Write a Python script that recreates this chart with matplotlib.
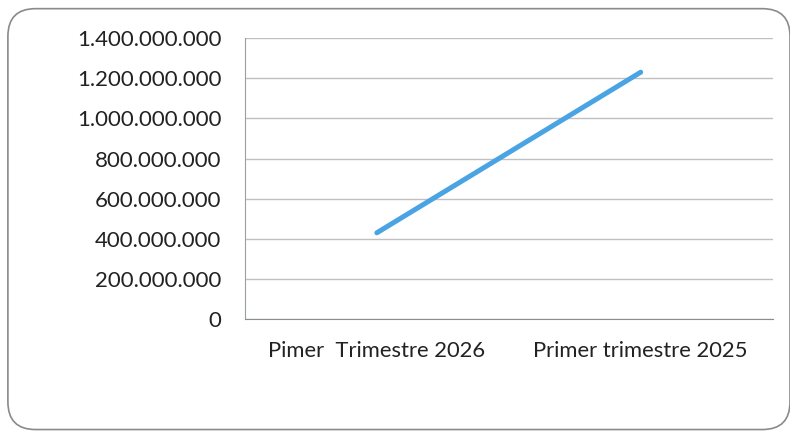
import matplotlib
matplotlib.use("Agg")
import matplotlib.pyplot as plt
from matplotlib.patches import FancyBboxPatch
from matplotlib.ticker import FuncFormatter

categories = ["Pimer  Trimestre 2026", "Primer trimestre 2025"]
values = [430000000, 1230000000]
yticks = [0, 200000000, 400000000, 600000000, 800000000, 1000000000, 1200000000, 1400000000]

plt.rcParams['font.family'] = ['Lato', 'DejaVu Sans']

fig = plt.figure(figsize=(7.9, 4.33), dpi=100)
fig.patch.set_facecolor("white")

border = FancyBboxPatch((0.010, 0.008), 0.990, 0.972, boxstyle="round,pad=0,rounding_size=0.035",
                        transform=fig.transFigure, fill=False, edgecolor="#8a8a8a", linewidth=1.2,
                        mutation_aspect=790/433)
fig.patches.append(border)

ax = fig.add_axes([0.310, 0.263, 0.668, 0.649])
x = list(range(len(categories)))
ax.plot(x, values, color="#4aa3e3", linewidth=3.6, solid_capstyle="round")
ax.set_xlim(-0.5, 1.5)
ax.set_ylim(0, 1400000000)
ax.set_yticks(yticks)
ax.yaxis.set_major_formatter(FuncFormatter(lambda v, p: f"{int(v):,}".replace(",", ".")))
ax.set_xticks(x)
ax.set_xticklabels(categories)
ax.grid(axis="y", color="#c0c0c0", linewidth=1.0)
ax.set_axisbelow(True)
for s in ["top", "right"]:
    ax.spines[s].set_visible(False)
ax.spines["left"].set_color("#9aa09a")
ax.spines["bottom"].set_color("#8a8f8a")
ax.tick_params(axis="y", length=0, pad=17, labelsize=16, labelcolor="#222222")
ax.tick_params(axis="x", length=0, pad=16, labelsize=15.8, labelcolor="#222222")

fig.savefig("out.png", dpi=100)
